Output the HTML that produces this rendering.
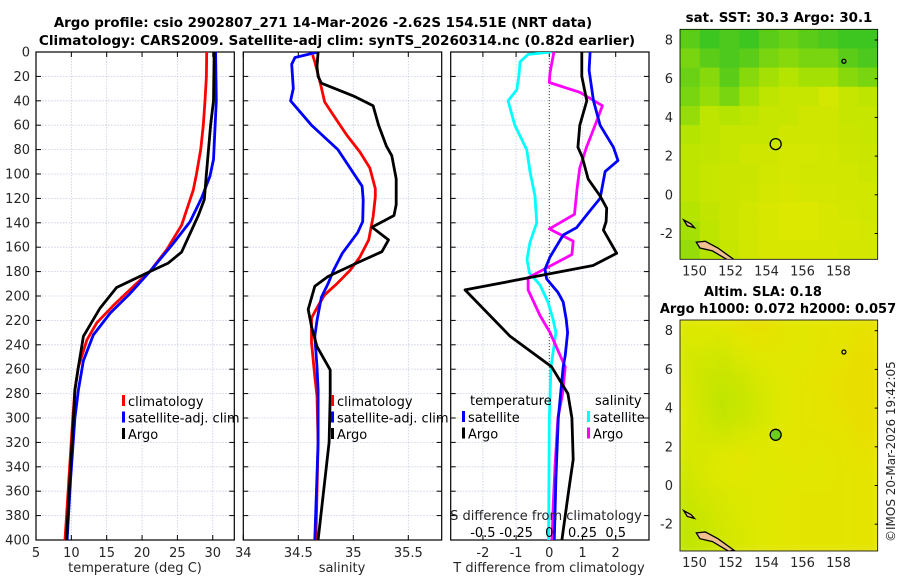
<!DOCTYPE html>
<html><head><meta charset="utf-8">
<style>
html,body{margin:0;padding:0;background:#fff;}
svg{display:block;font-family:"DejaVu Sans","Liberation Sans",sans-serif;}
</style></head>
<body>
<svg id="fig" width="900" height="580" viewBox="0 0 900 580" xmlns="http://www.w3.org/2000/svg">
<defs>
<clipPath id="c1"><rect x="36" y="52" width="198.3" height="488"/></clipPath>
<clipPath id="c2"><rect x="243.3" y="52" width="198.4" height="488"/></clipPath>
<clipPath id="c3"><rect x="450.7" y="52" width="198.3" height="488"/></clipPath>
<clipPath id="cm1"><rect x="680" y="29.3" width="197.7" height="230"/></clipPath>
<clipPath id="cm2"><rect x="680" y="320" width="197.7" height="231"/></clipPath>
<filter id="blur" x="0" y="0" width="1" height="1"><feGaussianBlur stdDeviation="7"/></filter>
</defs>
<text x="323" y="27" font-size="13.4" font-weight="bold" text-anchor="middle" fill="#000">Argo profile: csio 2902807_271 14-Mar-2026 -2.62S 154.51E (NRT data)</text>
<text x="337" y="45" font-size="13.6" font-weight="bold" text-anchor="middle" fill="#000">Climatology: CARS2009. Satellite-adj clim: synTS_20260314.nc (0.82d earlier)</text>
<g id="p1"></g>
<g id="p2"></g>
<g id="p3"></g>
<g id="m1"></g>
<g id="m2"></g>
<text x="779" y="22" font-size="13.4" font-weight="bold" text-anchor="middle">sat. SST: 30.3 Argo: 30.1</text>
<text x="763" y="296" font-size="13" font-weight="bold" text-anchor="middle">Altim. SLA: 0.18</text>
<text x="778" y="313" font-size="13" font-weight="bold" text-anchor="middle">Argo h1000: 0.072 h2000: 0.057</text>
<text transform="translate(895,542) rotate(-90)" font-size="12" fill="#262626">©IMOS 20-Mar-2026 19:42:05</text>
</svg>
<script>
// ---------- data ----------
const depthTicks = [0,20,40,60,80,100,120,140,160,180,200,220,240,260,280,300,320,340,360,380,400];
const tempTicks = [5,10,15,20,25,30];
const salTicks = [34,34.5,35,35.5];
const tdiffTicks = [-2,-1,0,1,2];
const sdiffTicks = [-0.5,-0.25,0,0.25,0.5];

const tClimDepth = [0,20,40,60,80,100,113,142,162,180,192,208,222,236,258,277,300,350,400];
const tClimVal   = [29.14,29.1,28.9,28.66,28.3,27.7,27.25,25.6,23.5,21.1,18.8,15.9,13.6,12.2,11.0,10.5,10.2,9.65,9.1];
const tSatDepth  = [0,40,88,102,120,139,157,180,198,214,232,253,277,300,350,400];
const tSatVal    = [30.4,30.5,30.1,29.6,28.4,26.8,24.4,21.1,18.3,15.5,13.1,11.7,11.0,10.5,9.9,9.4];
const tArgoDepth = [0,40,60,80,100,121,134,164,173,180,193,210,233,258,277,300,350,400];
const tArgoVal   = [30.2,30.1,29.7,29.4,29.1,28.8,27.95,25.6,23.7,21.1,16.4,14.05,11.7,11.0,10.5,10.3,9.8,9.3];

const sClimDepth = [2.5,8,25.6,41,52,68,82,95,112,119,135,154,168,179,190,199,208,218,238,266,282,320,400];
const sClimVal   = [34.63,34.65,34.70,34.74,34.82,34.94,35.06,35.15,35.2,35.2,35.18,35.14,35.06,34.97,34.85,34.74,34.68,34.62,34.62,34.65,34.67,34.68,34.66];
const sSatDepth  = [0,4.5,10,30,40,60,80,110,121,139,148,165,179,190,201,220,233,258,277,320,400];
const sSatVal    = [34.68,34.47,34.44,34.455,34.43,34.62,34.86,35.08,35.09,35.085,35.04,34.9,34.82,34.77,34.71,34.67,34.65,34.67,34.68,34.68,34.65];
const sArgoDepth = [0,12,20,25.6,36,44,60,77,85,104,125,134,143.6,154,163.7,173,184,192,211,225,241.5,260.6,282,320,360,400];
const sArgoVal   = [34.68,34.67,34.68,34.71,35.0,35.18,35.23,35.30,35.35,35.39,35.39,35.37,35.17,35.32,35.26,35.03,34.77,34.65,34.59,34.62,34.67,34.79,34.79,34.78,34.73,34.68];

const dtSatDepth = [0,15,40,60,78,89,98,120,130,144,150,168,178,186,197,205,219,230,249,258,300,350,400];
const dtSatVal   = [1.23,1.2,1.33,1.53,1.93,2.07,1.68,1.53,1.23,0.82,0.42,0.02,-0.13,-0.08,0.26,0.42,0.51,0.55,0.48,0.42,0.27,0.2,0.15];
const dtArgoDepth = [0,20,40,60,78,86,104,118,128,139,146,165,175,195,233,258,280,300,334,360,400];
const dtArgoVal   = [0.98,0.98,1.13,0.92,0.86,0.99,1.17,1.53,1.73,1.71,1.63,2.03,1.32,-2.54,-1.18,0.07,0.56,0.68,0.72,0.58,0.38];
const dsSatDepth = [0,2,8,20,31,40,60,80,98,118,140,156,170,181,191,205,219,230,249,258,300,400];
const dsSatVal   = [0.018,-0.16,-0.22,-0.23,-0.245,-0.31,-0.26,-0.17,-0.145,-0.108,-0.095,-0.145,-0.168,-0.15,-0.07,-0.01,0.028,0.05,0.025,0.013,0.0,-0.005];
const dsArgoDepth = [0,17,25,33,44,60,78,95,111,133,145,155,166,185,195,216,230,258,280,300,340,370,400];
const dsArgoVal   = [0.035,0.005,0,0.23,0.4,0.345,0.28,0.23,0.21,0.19,0,0.18,0.17,-0.16,-0.16,-0.07,0.005,0.12,0.10,0.065,0.043,0.03,0.02];

// map colour values (0 = green ... 1 = orange-yellow), rows north->south, cols west->east
const sstGrid = [
 [0.20,0.10,0.15,0.10,0.20,0.25,0.20,0.15,0.10,0.10],
 [0.30,0.20,0.15,0.20,0.30,0.35,0.30,0.30,0.20,0.15],
 [0.25,0.35,0.20,0.35,0.45,0.50,0.45,0.45,0.35,0.30],
 [0.30,0.40,0.30,0.45,0.55,0.60,0.60,0.68,0.60,0.55],
 [0.40,0.55,0.50,0.55,0.60,0.60,0.65,0.65,0.60,0.60],
 [0.50,0.55,0.60,0.60,0.60,0.65,0.65,0.65,0.62,0.60],
 [0.55,0.58,0.60,0.65,0.65,0.68,0.68,0.66,0.64,0.62],
 [0.55,0.60,0.62,0.62,0.66,0.68,0.66,0.66,0.66,0.64],
 [0.55,0.60,0.62,0.64,0.68,0.70,0.68,0.68,0.66,0.66],
 [0.50,0.58,0.62,0.66,0.70,0.72,0.72,0.70,0.68,0.66],
 [0.45,0.55,0.62,0.66,0.70,0.72,0.72,0.70,0.70,0.68],
 [0.40,0.50,0.60,0.66,0.70,0.70,0.70,0.70,0.68,0.68]
];
const slaGrid = [
 [0.72,0.74,0.76,0.82,0.86,0.80,0.76,0.78,0.80,0.82],
 [0.70,0.72,0.70,0.76,0.80,0.78,0.76,0.78,0.80,0.84],
 [0.68,0.66,0.64,0.70,0.74,0.76,0.76,0.80,0.82,0.86],
 [0.70,0.64,0.60,0.64,0.70,0.74,0.78,0.82,0.84,0.86],
 [0.72,0.64,0.56,0.60,0.68,0.74,0.78,0.80,0.84,0.86],
 [0.72,0.66,0.58,0.62,0.68,0.74,0.78,0.80,0.82,0.86],
 [0.70,0.68,0.66,0.70,0.72,0.76,0.78,0.78,0.80,0.84],
 [0.68,0.70,0.74,0.78,0.74,0.76,0.78,0.76,0.78,0.82],
 [0.64,0.70,0.74,0.76,0.74,0.74,0.76,0.76,0.78,0.80],
 [0.60,0.66,0.70,0.72,0.74,0.76,0.78,0.78,0.78,0.80],
 [0.58,0.62,0.68,0.72,0.74,0.76,0.78,0.78,0.78,0.80],
 [0.56,0.60,0.66,0.70,0.74,0.76,0.78,0.78,0.78,0.80]
];
const lonTicks = [150,152,154,156,158];
const latTicks = [-2,0,2,4,6,8];
const argoLon = [154.51];
const argoLat = [-2.62];

// ---------- helpers ----------
const NS = 'http://www.w3.org/2000/svg';
function mk(tag, attrs, parent){ const e=document.createElementNS(NS,tag); for(const k in attrs) e.setAttribute(k,attrs[k]); parent.appendChild(e); return e; }
const yD = d => 52 + d*1.22;
const xT = t => 36 + (t-5)*7.07;
const xS = s => 243.3 + (s-34)*110;
const xDT = v => 549.3 + v*33.2;
const xDS = v => 549.3 + v*132.8;
const GRID = '#c5cce6', TXT = '#262626';

function frame(g, x0, x1, xticks, xf, showY){
  for(const d of depthTicks){
    const l=mk('line',{x1:x0,x2:x1,y1:yD(d),y2:yD(d),stroke:GRID,'stroke-width':0.8,'stroke-dasharray':'1.5,1.5'},g);
    
    
    const t1=mk('line',{x1:x0,x2:x0+5,y1:yD(d),y2:yD(d),stroke:'#000','stroke-width':1},g);
    
    
    const t2=mk('line',{x1:x1-5,x2:x1,y1:yD(d),y2:yD(d),stroke:'#000','stroke-width':1},g);
    
    
    if(showY){
      const lb=mk('text',{x:30,y:yD(d)+4.5,'font-size':13,'text-anchor':'end',fill:TXT},g);
      lb.textContent=d;
      
      
    }
  }
  for(const v of xticks){
    const x=xf(v);
    if(x>x0+1 && x<x1-1){
      const l=mk('line',{x1:x,x2:x,y1:52,y2:540,stroke:GRID,'stroke-width':0.8,'stroke-dasharray':'1.5,1.5'},g);
      
      
    }
    const t=mk('line',{x1:x,x2:x,y1:535,y2:540,stroke:'#000'},g);
    
    
    const t2=mk('line',{x1:x,x2:x,y1:52,y2:57,stroke:'#000'},g);
    
    
  }
  const r=mk('rect',{x:x0,y:52,width:x1-x0,height:488,fill:'none',stroke:'#000','stroke-width':1.2},g);
  
  
}
function xlabels(g, ticks, xf, y){
  for(const v of ticks){
    const t=mk('text',{x:xf(v),y:y,'font-size':13,'text-anchor':'middle',fill:TXT},g);
    t.textContent=v;
    
    
  }
}
function line(g, depths, vals, xf, color, clip, name){
  const pts=depths.map((d,i)=>xf(vals[i]).toFixed(1)+','+yD(d).toFixed(1)).join(' ');
  const p=mk('polyline',{points:pts,fill:'none',stroke:color,'stroke-width':2.8,'stroke-linejoin':'round','clip-path':'url(#'+clip+')'},g);
  
  
}
function legendItem(g, x, y, color, label, name){
  const m=mk('rect',{x:x,y:y-7,width:3,height:11,fill:color},g);
  
  
  const t=mk('text',{x:x+6,y:y+4,'font-size':13,fill:'#000'},g);
  t.textContent=label;
  
  
}
function axTitle(g,x,y,s,name){
  const t=mk('text',{x:x,y:y,'font-size':13,'text-anchor':'middle',fill:TXT},g);
  t.textContent=s;
  
  
}

// ---------- panel 1 ----------
const p1=document.getElementById('p1');
frame(p1,36,234.3,tempTicks,xT,true);
xlabels(p1,tempTicks,xT,557);
axTitle(p1,135,572,'temperature (deg C)','x-axis-title-temperature');
line(p1,tClimDepth,tClimVal,xT,'#ff0000','c1','temp-climatology-line');
line(p1,tSatDepth,tSatVal,xT,'#0000ff','c1','temp-satellite-line');
line(p1,tArgoDepth,tArgoVal,xT,'#000000','c1','temp-argo-line');
legendItem(p1,122,402,'#ff0000','climatology','legend-climatology');
legendItem(p1,122,418.5,'#0000ff','satellite-adj. clim','legend-satellite');
legendItem(p1,122,435,'#000000','Argo','legend-argo');

// ---------- panel 2 ----------
const p2=document.getElementById('p2');
frame(p2,243.3,441.7,salTicks,xS,false);
xlabels(p2,salTicks,xS,557);
axTitle(p2,342,572,'salinity','x-axis-title-salinity');
line(p2,sClimDepth,sClimVal,xS,'#ff0000','c2','sal-climatology-line');
line(p2,sSatDepth,sSatVal,xS,'#0000ff','c2','sal-satellite-line');
line(p2,sArgoDepth,sArgoVal,xS,'#000000','c2','sal-argo-line');
legendItem(p2,331,402,'#ff0000','climatology','legend-climatology');
legendItem(p2,331,418.5,'#0000ff','satellite-adj. clim','legend-satellite');
legendItem(p2,331,435,'#000000','Argo','legend-argo');

// ---------- panel 3 ----------
const p3=document.getElementById('p3');
frame(p3,450.7,649,tdiffTicks,xDT,false);
const zl=mk('line',{x1:xDT(0),x2:xDT(0),y1:52,y2:540,stroke:'#3a4a2a','stroke-width':1,'stroke-dasharray':'1,2'},p3);


xlabels(p3,tdiffTicks,xDT,557);
axTitle(p3,549,572,'T difference from climatology','x-axis-title-tdiff');
line(p3,dsSatDepth,dsSatVal,xDS,'#00ffff','c3','sdiff-satellite-line');
line(p3,dsArgoDepth,dsArgoVal,xDS,'#ff00ff','c3','sdiff-argo-line');
line(p3,dtSatDepth,dtSatVal,xDT,'#0000ff','c3','tdiff-satellite-line');
line(p3,dtArgoDepth,dtArgoVal,xDT,'#000000','c3','tdiff-argo-line');
axTitle(p3,546,520,'S difference from climatology','s-axis-title');
for(const v of sdiffTicks){
  const t=mk('text',{x:xDS(v),y:537,'font-size':13,'text-anchor':'middle',fill:'#000'},p3);
  t.textContent=v;
  
  
}
const lt=mk('text',{x:470,y:405,'font-size':13,fill:'#000'},p3);
lt.textContent='temperature';


const ls=mk('text',{x:595,y:405,'font-size':13,fill:'#000'},p3);
ls.textContent='salinity';


legendItem(p3,462,418,'#0000ff','satellite','legend-t-satellite');
legendItem(p3,462,434.5,'#000000','Argo','legend-t-argo');
legendItem(p3,587,418,'#00ffff','satellite','legend-s-satellite');
legendItem(p3,587,434.5,'#ff00ff','Argo','legend-s-argo');

// ---------- maps ----------
function colr(v){
  const stops=[[0,[32,190,40]],[0.5,[180,228,0]],[0.75,[225,232,0]],[1,[242,210,0]]];
  for(let i=1;i<stops.length;i++){
    if(v<=stops[i][0]){
      const a=stops[i-1],b=stops[i],f=(v-a[0])/(b[0]-a[0]);
      return 'rgb('+a[1].map((c,k)=>Math.round(c+(b[1][k]-c)*f)).join(',')+')';
    }
  }
  return 'rgb(242,210,0)';
}
function drawMap(id, top, bottom, grid, clip, smooth, filled){
  const g=document.getElementById(id);
  const lonX = lon => 694.5 + (lon-150)*18;
  const latY = lat => top + 10.7 + (8-lat)*19.35;
  const x0=680,x1=877.7;
  const cells=mk('g',{'clip-path':'url(#'+clip+')'},g);
  
  
  const inner=smooth?mk('g',{filter:'url(#blur)'},cells):cells;
  const nr=grid.length,nc=grid[0].length,cw=(x1-x0)/nc,ch=(bottom-top)/nr;
  for(let r=0;r<nr;r++)for(let c=0;c<nc;c++){
    const e=mk('rect',{x:x0+c*cw-(smooth?8:0),y:top+r*ch-(smooth?8:0),width:cw+(smooth?16:0.6),height:ch+(smooth?16:0.6),fill:colr(grid[r][c])},inner);
    
    
  }
  const coast=mk('path',{d:'M'+lonX(150.1)+','+latY(-2.45)+' L'+lonX(150.6)+','+latY(-2.4)+' L'+lonX(151.3)+','+latY(-2.75)+' L'+lonX(152.2)+','+latY(-3.35)+' L'+lonX(151.9)+','+latY(-3.4)+' L'+lonX(151.0)+','+latY(-2.9)+' L'+lonX(150.3)+','+latY(-2.75)+' Z',fill:'#f0c090',stroke:'#000','stroke-width':1.3,'clip-path':'url(#'+clip+')'},g);
  
  
  const c2=mk('path',{d:'M'+lonX(149.4)+','+latY(-1.3)+' L'+lonX(149.8)+','+latY(-1.5)+' L'+lonX(150.0)+','+latY(-1.7)+' L'+lonX(149.6)+','+latY(-1.6)+' Z',fill:'#f0c090',stroke:'#000','stroke-width':1.3,'clip-path':'url(#'+clip+')'},g);
  
  
  const c3=mk('circle',{cx:lonX(158.3),cy:latY(6.9),r:2,fill:'none',stroke:'#000','stroke-width':1.3},g);
  
  
  const ac=mk('circle',{cx:lonX(argoLon[0]),cy:latY(-argoLat[0]),r:5.5,fill:filled?'#6ccc20':'none',stroke:'#000','stroke-width':1.3},g);
  
  
  const fr=mk('rect',{x:x0,y:top,width:x1-x0,height:bottom-top,fill:'none',stroke:'#000','stroke-width':0.8},g);
  
  
  for(const v of latTicks){
    const y=latY(v);
    const t=mk('text',{x:673,y:y+4.5,'font-size':13,'text-anchor':'end',fill:TXT},g);
    t.textContent=v;
    
    
    const tk=mk('line',{x1:x1-3,x2:x1,y1:y,y2:y,stroke:'#000'},g);
    
    
  }
  for(const v of lonTicks){
    const t=mk('text',{x:lonX(v),y:bottom+16,'font-size':13,'text-anchor':'middle',fill:TXT},g);
    t.textContent=v;
    
    
  }
}
drawMap('m1',29.3,259.3,sstGrid,'cm1',false,false);
drawMap('m2',320,551,slaGrid,'cm2',true,true);
</script>
</body></html>
